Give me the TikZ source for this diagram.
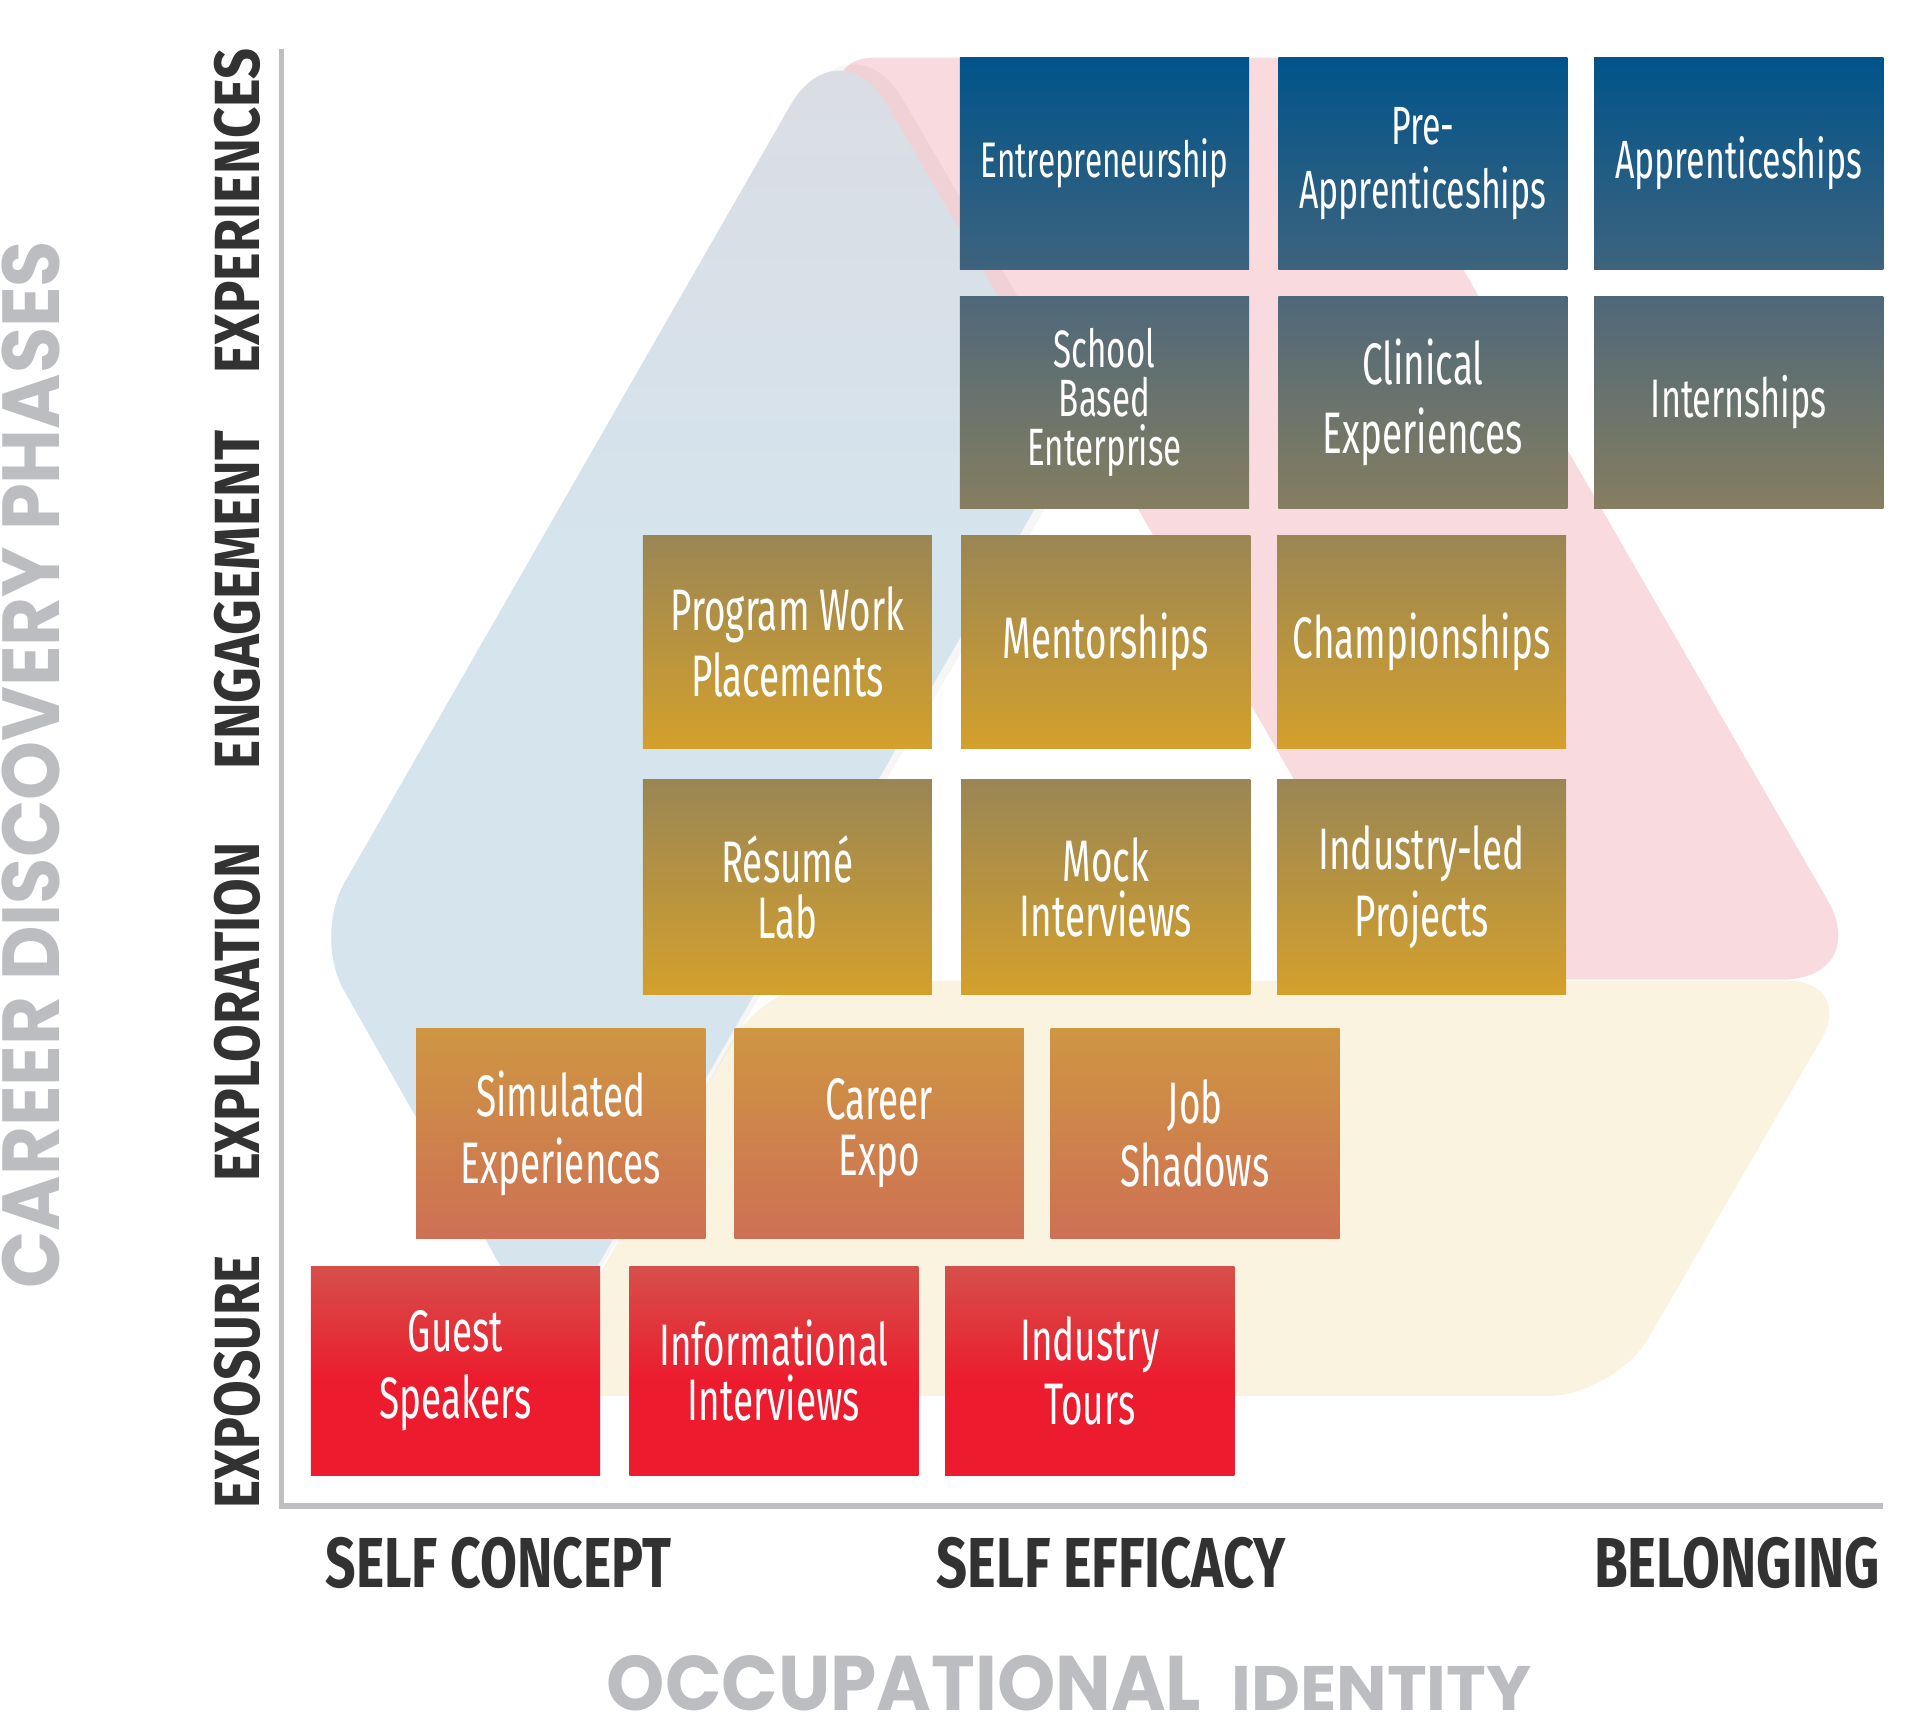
\documentclass[tikz,border=0pt]{standalone}
\usepackage{fontspec}
\usepackage{graphicx}
\setmainfont{Fira Sans}
\newfontfamily\boxfont[FakeStretch=0.63]{Fira Sans}
\newfontfamily\geofont{Poppins}
\usetikzlibrary{shadings}

\definecolor{bandblue}{RGB}{213,228,237}
\definecolor{bandbluetop}{RGB}{219,220,227}
\definecolor{bandpink}{RGB}{249,218,222}
\definecolor{bandcream}{RGB}{249,242,222}
\definecolor{axisgray}{RGB}{190,191,195}
\definecolor{titlegray}{RGB}{188,189,193}
\definecolor{labeldark}{RGB}{50,50,50}
\definecolor{aT}{RGB}{0,84,138}
\definecolor{aB}{RGB}{62,99,126}
\definecolor{bT}{RGB}{78,104,122}
\definecolor{bB}{RGB}{134,126,96}
\definecolor{cT}{RGB}{154,134,84}
\definecolor{cB}{RGB}{212,160,44}
\definecolor{dT}{RGB}{206,150,66}
\definecolor{dB}{RGB}{206,112,84}
\definecolor{eT}{RGB}{214,80,74}
\definecolor{eB}{RGB}{236,28,46}

\pgfdeclareverticalshading{redshade}{100bp}{color(0bp)=(eB); color(25bp)=(eB); color(48bp)=(eB); color(75bp)=(eT); color(100bp)=(eT)}
\pgfdeclareverticalshading{blueshade}{100bp}{color(0bp)=(bandblue); color(25bp)=(bandblue); color(55bp)=(bandblue); color(75bp)=(bandbluetop); color(100bp)=(bandbluetop)}

\tikzset{
  box/.style={minimum width=2.36cm, minimum height=1.73cm, inner sep=0pt,
    text=white, align=center, font=\boxfont\fontsize{13.6}{15.4}\selectfont},
  rowA/.style={box, top color=aT, bottom color=aB},
  rowB/.style={box, top color=bT, bottom color=bB},
  rowC/.style={box, top color=cT, bottom color=cB},
  rowE/.style={box, top color=dT, bottom color=dB},
  rowF/.style={box, shading=redshade},
  axislab/.style={inner sep=0pt, text=labeldark, font=\bfseries},
  phaselab/.style={inner sep=0pt, text=labeldark, font=\bfseries, rotate=90},
  titlelab/.style={inner sep=0pt, text=titlegray, font=\geofont\bfseries},
  axisline/.style={draw=axisgray, line width=0.045cm}
}

\begin{document}
\begin{tikzpicture}[x=0.01cm, y=-0.01cm]
\useasboundingbox (0,0) rectangle (1568,1405);

% background bands
\fill[bandpink, rounded corners=0.6cm] (665,47) -- (1095,47) [rounded corners=0.75cm] -- (1530,800) [rounded corners=0.5cm] -- (1151,800) -- (880,330) -- (700,95) -- cycle;
\fill[bandcream, fill opacity=0.95, rounded corners=0.55cm] (626,801) -- (1515,801) -- (1319,1140) -- (433,1140) -- cycle;
% soft edge of the blue band
\fill[black, fill opacity=0.035, rounded corners=0.5cm] (262,760) -- (454,1098) -- (893,348) [rounded corners=0.8cm] -- (697,12) [rounded corners=0.5cm] -- cycle;
\shade[shading=blueshade, rounded corners=0.5cm] (256,765) -- (448,1103) -- (880,355) [rounded corners=0.8cm] -- (685,17) [rounded corners=0.5cm] -- cycle;

% axes
\coordinate (ytop) at (230,40);
\coordinate (origin) at (230,1230);
\coordinate (xend) at (1538,1230);
\draw[axisline] (ytop) -- (origin) -- (xend);

% row A
\node[rowA, font=\boxfont\fontsize{11.6}{13}\selectfont] (entre) at (902,133.5) {Entrepreneurship};
\node[rowA, font=\boxfont\fontsize{12.5}{14.8}\selectfont] (preapp) at (1162,133.5) {Pre-\\Apprenticeships};
\node[rowA, font=\boxfont\fontsize{12.5}{14.8}\selectfont] (app) at (1420,133.5) {Apprenticeships};
% row B
\node[rowB, font=\boxfont\fontsize{12.2}{11.4}\selectfont] (sbe) at (902,328.5) {School\\Based\\Enterprise};
\node[rowB, font=\boxfont\fontsize{13.6}{16}\selectfont] (clin) at (1162,328.5) {Clinical\\Experiences};
\node[rowB, font=\boxfont\fontsize{12.6}{14}\selectfont] (intern) at (1420,328.5) {Internships};
% row C
\node[rowC, minimum height=1.74cm] (pwp) at (643,524) {Program Work\\Placements};
\node[rowC, minimum height=1.74cm] (mentor) at (903,524) {Mentorships};
\node[rowC, minimum height=1.74cm] (champ) at (1161,524) {Championships};
% row D
\node[rowC, minimum height=1.75cm, font=\boxfont\fontsize{13.6}{13}\selectfont] (resume) at (643,724.5) {Résumé\\Lab};
\node[rowC, minimum height=1.75cm, font=\boxfont\fontsize{13.6}{12.8}\selectfont] (mock) at (903,724.5) {Mock\\Interviews};
\node[rowC, minimum height=1.75cm, font=\boxfont\fontsize{13.6}{15.6}\selectfont] (indled) at (1161,724.5) {Industry-led\\Projects};
% row E
\node[rowE, minimum height=1.71cm] (sim) at (458,925.5) {Simulated\\Experiences};
\node[rowE, minimum height=1.71cm, font=\boxfont\fontsize{13.6}{13}\selectfont] (expo) at (718,925.5) {Career\\Expo};
\node[rowE, minimum height=1.71cm, font=\boxfont\fontsize{13.6}{14.8}\selectfont] (job) at (976,925.5) {Job\\Shadows};
% row F
\node[rowF, minimum height=1.71cm] (guest) at (372,1119.5) {Guest\\Speakers};
\node[rowF, minimum height=1.71cm, font=\boxfont\fontsize{13.6}{12.8}\selectfont] (info) at (632,1119.5) {Informational\\Interviews};
\node[rowF, minimum height=1.71cm, font=\boxfont\fontsize{13.6}{15}\selectfont] (tours) at (890,1119.5) {Industry\\Tours};

% axis labels
\node[axislab] (selfconcept) at (407,1276.5) {\resizebox{2.82cm}{0.41cm}{SELF CONCEPT}};
\node[axislab] (selfefficacy) at (907.5,1276.5) {\resizebox{2.85cm}{0.41cm}{SELF EFFICACY}};
\node[axislab] (belonging) at (1418.5,1276.5) {\resizebox{2.33cm}{0.41cm}{BELONGING}};

% phase labels
\node[phaselab] (experiences) at (193.5,172.5) {\resizebox{2.65cm}{0.37cm}{EXPERIENCES}};
\node[phaselab] (engagement) at (193.5,490) {\resizebox{2.76cm}{0.37cm}{ENGAGEMENT}};
\node[phaselab] (exploration) at (193.5,826.5) {\resizebox{2.77cm}{0.37cm}{EXPLORATION}};
\node[phaselab] (exposure) at (193.5,1128.5) {\resizebox{2.07cm}{0.37cm}{EXPOSURE}};

% titles
\node[titlelab, rotate=90] (cdp) at (25,624.5) {\resizebox{8.55cm}{0.47cm}{CAREER DISCOVERY PHASES}};
\node[titlelab, anchor=south west] (occ) at (495,1398) {\resizebox{4.85cm}{0.45cm}{OCCUPATIONAL}};
\node[titlelab, anchor=south west] (ident) at (1005,1398) {\resizebox{2.45cm}{0.36cm}{IDENTITY}};
\end{tikzpicture}
\end{document}
